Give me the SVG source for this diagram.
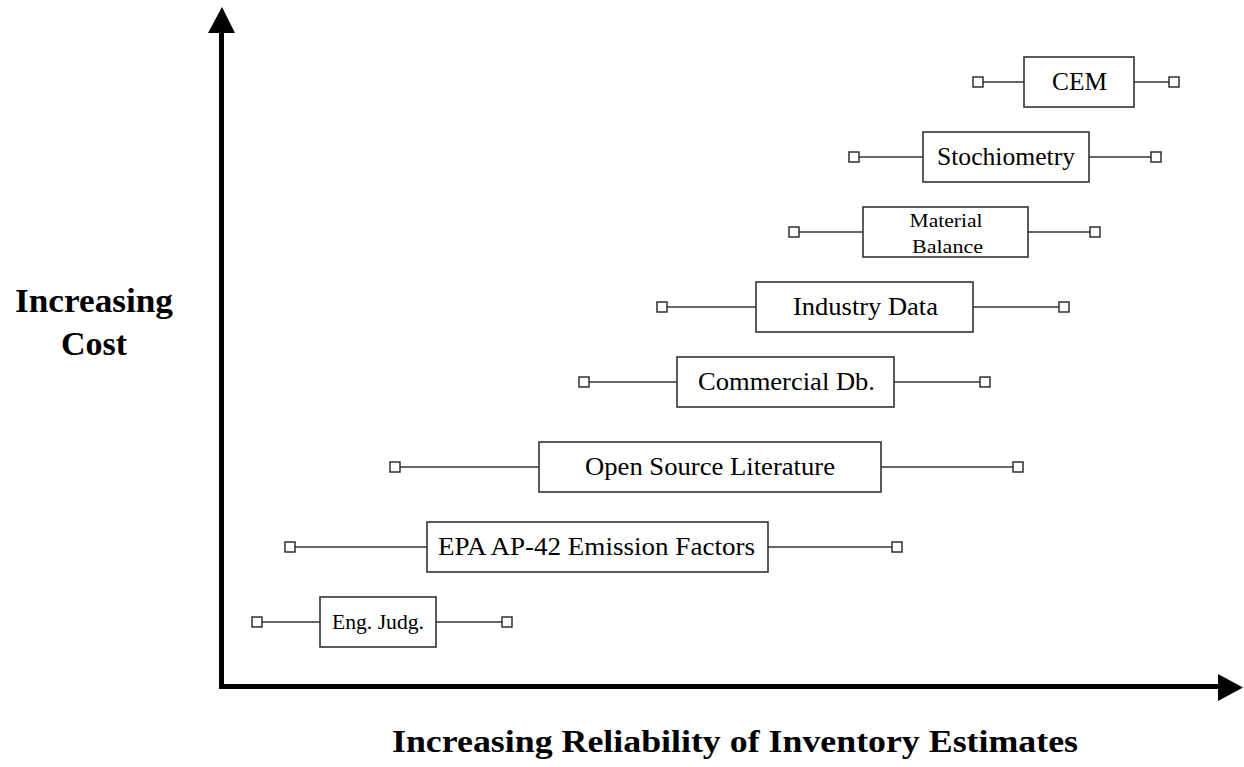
<svg xmlns="http://www.w3.org/2000/svg" width="1244" height="767" viewBox="0 0 1244 767">
<style>
.box{fill:#fff;stroke:#333;stroke-width:1.6}
.ln{stroke:#333;stroke-width:1.6;fill:none}
.sq{fill:#fff;stroke:#222;stroke-width:1.4}
.t{font-family:"Liberation Serif","Times New Roman",serif;fill:#000;text-anchor:middle}
.ax{font-family:"Liberation Serif","Times New Roman",serif;font-weight:bold;fill:#000;text-anchor:middle}
</style>
<rect width="1244" height="767" fill="#fff"/>
<g id="axes">
<line x1="221.5" y1="30" x2="221.5" y2="688.5" stroke="#000" stroke-width="5"/>
<line x1="219" y1="686.5" x2="1220" y2="686.5" stroke="#000" stroke-width="5"/>
<polygon points="222,7 235,33 208,33" fill="#000"/>
<polygon points="1243,687.5 1218,674 1218,701" fill="#000"/>
</g>
<g id="connectors">
<line class="ln" x1="983" y1="82" x2="1024" y2="82"/><line class="ln" x1="1134" y1="82" x2="1169" y2="82"/>
<line class="ln" x1="859" y1="157" x2="923" y2="157"/><line class="ln" x1="1089" y1="157" x2="1151" y2="157"/>
<line class="ln" x1="799" y1="232" x2="863" y2="232"/><line class="ln" x1="1028" y1="232" x2="1090" y2="232"/>
<line class="ln" x1="667" y1="307" x2="756" y2="307"/><line class="ln" x1="973" y1="307" x2="1059" y2="307"/>
<line class="ln" x1="589" y1="382" x2="677" y2="382"/><line class="ln" x1="894" y1="382" x2="980" y2="382"/>
<line class="ln" x1="400" y1="467" x2="539" y2="467"/><line class="ln" x1="881" y1="467" x2="1013" y2="467"/>
<line class="ln" x1="295" y1="547" x2="427" y2="547"/><line class="ln" x1="768" y1="547" x2="892" y2="547"/>
<line class="ln" x1="262" y1="622" x2="320" y2="622"/><line class="ln" x1="436" y1="622" x2="502" y2="622"/>
</g>
<g id="whiskers">
<rect class="sq" x="973" y="77" width="10" height="10"/><rect class="sq" x="1169" y="77" width="10" height="10"/>
<rect class="sq" x="849" y="152" width="10" height="10"/><rect class="sq" x="1151" y="152" width="10" height="10"/>
<rect class="sq" x="789" y="227" width="10" height="10"/><rect class="sq" x="1090" y="227" width="10" height="10"/>
<rect class="sq" x="657" y="302" width="10" height="10"/><rect class="sq" x="1059" y="302" width="10" height="10"/>
<rect class="sq" x="579" y="377" width="10" height="10"/><rect class="sq" x="980" y="377" width="10" height="10"/>
<rect class="sq" x="390" y="462" width="10" height="10"/><rect class="sq" x="1013" y="462" width="10" height="10"/>
<rect class="sq" x="285" y="542" width="10" height="10"/><rect class="sq" x="892" y="542" width="10" height="10"/>
<rect class="sq" x="252" y="617" width="10" height="10"/><rect class="sq" x="502" y="617" width="10" height="10"/>
</g>
<g id="cem"><rect class="box" x="1024" y="57" width="110" height="50"/><text class="t" x="1079.5" y="90" font-size="26" textLength="55" lengthAdjust="spacingAndGlyphs">CEM</text></g>
<g id="stochiometry"><rect class="box" x="923" y="132" width="166" height="50"/><text class="t" x="1006" y="165" font-size="25" textLength="138" lengthAdjust="spacingAndGlyphs">Stochiometry</text></g>
<g id="material-balance"><rect class="box" x="863" y="207" width="165" height="50"/><text class="t" x="946" y="227" font-size="19" textLength="73" lengthAdjust="spacingAndGlyphs">Material</text><text class="t" x="947.5" y="253" font-size="19" textLength="71" lengthAdjust="spacingAndGlyphs">Balance</text></g>
<g id="industry-data"><rect class="box" x="756" y="282" width="217" height="50"/><text class="t" x="865.5" y="315" font-size="25" textLength="145" lengthAdjust="spacingAndGlyphs">Industry Data</text></g>
<g id="commercial-db"><rect class="box" x="677" y="357" width="217" height="50"/><text class="t" x="786.5" y="390" font-size="25" textLength="177" lengthAdjust="spacingAndGlyphs">Commercial Db.</text></g>
<g id="open-source"><rect class="box" x="539" y="442" width="342" height="50"/><text class="t" x="710" y="475" font-size="26" textLength="250" lengthAdjust="spacingAndGlyphs">Open Source Literature</text></g>
<g id="epa"><rect class="box" x="427" y="522" width="341" height="50"/><text class="t" x="596.5" y="555" font-size="26" textLength="317" lengthAdjust="spacingAndGlyphs">EPA AP-42 Emission Factors</text></g>
<g id="eng-judg"><rect class="box" x="320" y="597" width="116" height="50"/><text class="t" x="378" y="629" font-size="20" textLength="92" lengthAdjust="spacingAndGlyphs">Eng. Judg.</text></g>
<g id="labels">
<text class="ax" x="94" y="312" font-size="34" textLength="158" lengthAdjust="spacingAndGlyphs">Increasing</text>
<text class="ax" x="94" y="355" font-size="34">Cost</text>
<text class="ax" x="735" y="752" font-size="32" textLength="686" lengthAdjust="spacingAndGlyphs">Increasing Reliability of Inventory Estimates</text>
</g>
</svg>
